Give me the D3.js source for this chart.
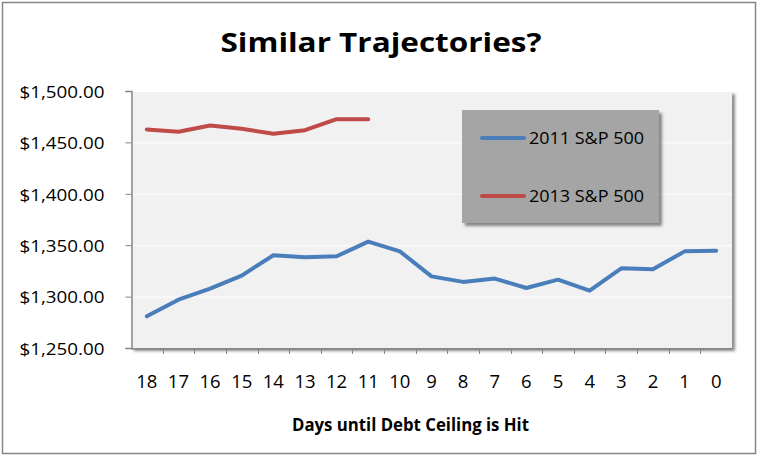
<!DOCTYPE html>
<html><head><meta charset="utf-8">
<script src="https://cdn.jsdelivr.net/npm/d3@7"></script>
<style>body{margin:0;background:#fff}svg{display:block}</style>
</head><body>
<svg id="c" width="758" height="457"></svg>
<script>
const days = [18,17,16,15,14,13,12,11,10,9,8,7,6,5,4,3,2,1,0];
const sp2011 = [1280.8,1297,1307.7,1320.4,1340.2,1338.2,1339.2,1353.5,1344,1319.7,1314.3,1317.5,1308.4,1316.5,1305.8,1327.5,1326.5,1344,1344.7];
const sp2013 = [1462.6,1460.3,1466.5,1463.2,1458.4,1461.9,1472.6,1472.6];
const yTicks = [1250,1300,1350,1400,1450,1500];
const seriesNames = ["2011 S&P 500","2013 S&P 500"];
const colors = ["#4A7EBB","#BE4B48"];
const title = "Similar Trajectories?";
const xTitle = "Days until Debt Ceiling is Hit";

const svg = d3.select("#c");
const font = "'Open Sans', sans-serif";
const defs = svg.append("defs");
const f = defs.append("filter").attr("id","sh").attr("x","-5%").attr("y","-5%").attr("width","115%").attr("height","115%");
f.append("feDropShadow").attr("dx",3).attr("dy",3).attr("stdDeviation",1.6).attr("flood-color","#000").attr("flood-opacity",0.45);

svg.append("rect").attr("x",2.5).attr("y",2.5).attr("width",753).attr("height",451)
  .attr("fill","#fff").attr("stroke","#868686").attr("stroke-width",1.5);

const L=131,R=732,T=91,B=348;
const x = d3.scaleBand().domain(days).range([L,R]);
const y = d3.scaleLinear().domain([1250,1500]).range([B,T]);

svg.append("rect").attr("x",L).attr("y",T).attr("width",R-L).attr("height",B-T)
  .attr("fill","#f1f1f1").attr("filter","url(#sh)");

svg.append("g").selectAll("line").data(yTicks.slice(1)).join("line")
  .attr("x1",L).attr("x2",R).attr("y1",d=>y(d)+0.5).attr("y2",d=>y(d)+0.5)
  .attr("stroke","#fff").attr("stroke-width",1);

// axes
const ya = svg.append("g").attr("transform",`translate(${L+0.5},0)`)
  .call(d3.axisLeft(y).tickValues(yTicks).tickFormat(d3.format("$,.2f")).tickSize(6).tickPadding(21));
ya.select(".domain").attr("stroke","#868686").attr("stroke-width",1.5);
ya.selectAll(".tick line").attr("stroke","#868686");
ya.selectAll("text").attr("font-family",font).attr("font-size",16.5).attr("fill","#000").attr("dy","0.38em")
  .attr("textLength",85).attr("lengthAdjust","spacingAndGlyphs");

const xa = svg.append("g").attr("transform",`translate(0,${B+0.5})`)
  .call(d3.axisBottom(x).tickSize(0));
xa.select(".domain").attr("stroke","#868686").attr("stroke-width",1.5);
xa.selectAll("text").attr("font-family",font).attr("font-size",18.5).attr("fill","#000").attr("y",39.5).attr("dy",0);
svg.append("g").selectAll("line").data(days.slice(1)).join("line")
  .attr("x1",d=>Math.round(x(d))+0.5).attr("x2",d=>Math.round(x(d))+0.5)
  .attr("y1",B).attr("y2",B+6).attr("stroke","#868686");

const line = d3.line().x((d,i)=>x(days[i])+x.bandwidth()/2).y(d=>y(d));
[sp2011,sp2013].forEach((s,i)=>{
  svg.append("path").datum(s).attr("d",line).attr("fill","none")
    .attr("stroke",colors[i]).attr("stroke-width",4).attr("stroke-linejoin","round").attr("stroke-linecap","round");
});

// legend
const lg = svg.append("g");
lg.append("rect").attr("x",462).attr("y",110).attr("width",197).attr("height",113)
  .attr("fill","#a5a5a5").attr("filter","url(#sh)");
seriesNames.forEach((n,i)=>{
  const yy = 138 + i*58;
  lg.append("line").attr("x1",482).attr("x2",524).attr("y1",yy).attr("y2",yy)
    .attr("stroke",colors[i]).attr("stroke-width",4).attr("stroke-linecap","round");
  lg.append("text").attr("x",529).attr("y",yy+6).text(n)
    .attr("font-family",font).attr("font-size",17).attr("fill","#000")
    .attr("textLength",115).attr("lengthAdjust","spacingAndGlyphs");
});

svg.append("text").attr("x",381).attr("y",52).attr("text-anchor","middle").text(title)
  .attr("font-family",font).attr("font-weight","bold").attr("font-size",27.5).attr("fill","#000")
  .attr("textLength",321).attr("lengthAdjust","spacingAndGlyphs");
svg.append("text").attr("x",410.5).attr("y",431).attr("text-anchor","middle").text(xTitle)
  .attr("font-family",font).attr("font-weight","bold").attr("font-size",17).attr("fill","#000")
  .attr("textLength",237).attr("lengthAdjust","spacingAndGlyphs");
</script>
</body></html>
